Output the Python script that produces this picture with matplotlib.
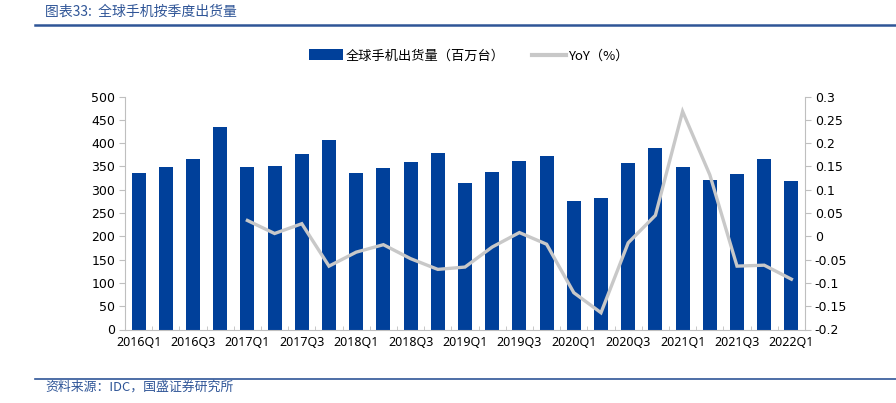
import matplotlib
matplotlib.use("Agg")
import matplotlib.pyplot as plt
from matplotlib.lines import Line2D
from matplotlib.patches import Patch
import numpy as np

plt.rcParams['font.family'] = ['DejaVu Sans', 'Noto Sans CJK SC']

quarters = ["2016Q1", "2016Q2", "2016Q3", "2016Q4",
            "2017Q1", "2017Q2", "2017Q3", "2017Q4",
            "2018Q1", "2018Q2", "2018Q3", "2018Q4",
            "2019Q1", "2019Q2", "2019Q3", "2019Q4",
            "2020Q1", "2020Q2", "2020Q3", "2020Q4",
            "2021Q1", "2021Q2", "2021Q3", "2021Q4",
            "2022Q1"]
shipments = [336, 349, 366, 434,
             348, 351, 376, 407,
             336, 346, 360, 379,
             314, 337, 362, 372,
             276, 282, 357, 389,
             349, 320, 334, 366,
             318]
yoy = [None, None, None, None,
       0.034, 0.006, 0.027, -0.064,
       -0.034, -0.018, -0.048, -0.071,
       -0.066, -0.023, 0.008, -0.017,
       -0.121, -0.164, -0.014, 0.045,
       0.268, 0.132, -0.064, -0.062,
       -0.092]

bar_label = "全球手机出货量（百万台）"
line_label = "YoY（%）"
title = "图表33:  全球手机按季度出货量"
source = "资料来源：IDC，国盛证券研究所"

blue = "#00409A"
gray = "#C8C8C8"
spine_gray = "#BFBFBF"
title_blue = "#2F5597"

fig = plt.figure(figsize=(8.96, 4.03), dpi=100)
ax = fig.add_axes([125/896, 1-329.5/403, (805-125)/896, (329.5-96.5)/403])
x = np.arange(len(quarters))
ax.bar(x, shipments, width=0.52, color=blue, zorder=2)
ax.set_xlim(-0.5, len(quarters)-0.5)
ax.set_ylim(0, 500)
ax.set_yticks(np.arange(0, 501, 50))
ax.set_xticks(x[::2])
ax.set_xticklabels(quarters[::2], family=['Noto Sans', 'DejaVu Sans'], fontsize=9)
ax.set_xticks(np.arange(-0.5, len(quarters), 1), minor=True)

ax2 = ax.twinx()
xi = [i for i, v in enumerate(yoy) if v is not None]
yv = [v for v in yoy if v is not None]
ax2.plot(xi, yv, color=gray, lw=2.4, solid_joinstyle='miter', zorder=3)
ax2.set_ylim(-0.2, 0.3)
ax2.set_yticks([-0.2, -0.15, -0.1, -0.05, 0, 0.05, 0.1, 0.15, 0.2, 0.25, 0.3])
ax2.set_yticklabels(["-0.2", "-0.15", "-0.1", "-0.05", "0", "0.05", "0.1", "0.15", "0.2", "0.25", "0.3"])

for a in (ax, ax2):
    for s in a.spines.values():
        s.set_visible(False)
ax.spines['left'].set_visible(True)
ax.spines['left'].set_color(spine_gray)
ax.spines['bottom'].set_visible(True)
ax.spines['bottom'].set_color(spine_gray)
ax2.spines['right'].set_visible(True)
ax2.spines['right'].set_color(spine_gray)

ax.tick_params(axis='y', direction='out', length=4, color=spine_gray, labelsize=9, pad=3)
ax2.tick_params(axis='y', direction='out', length=4, color=spine_gray, labelsize=9, pad=3)
ax.tick_params(axis='x', which='major', length=0, pad=5)
ax.tick_params(axis='x', which='minor', direction='in', length=3, color=spine_gray)

handles = [Patch(facecolor=blue, edgecolor='none', label=bar_label),
           Line2D([0], [0], color=gray, lw=3, label=line_label)]
fig.legend(handles=handles, loc='center', bbox_to_anchor=(469/896, 1-56/403), ncol=2,
           frameon=False, handlelength=2.6, handleheight=0.9,
           handletextpad=0.15, columnspacing=2.1,
           prop={'family': ['Noto Sans CJK SC', 'DejaVu Sans'], 'size': 9.5})

fig.text(45/896, 1-12/403, title, color=title_blue, fontsize=10, style='italic',
         va='center', ha='left', family=['Noto Sans CJK SC', 'DejaVu Sans'])
fig.add_artist(Line2D([35/896, 1.0], [1-24.5/403, 1-24.5/403], color=title_blue, lw=1.8))
fig.add_artist(Line2D([35/896, 1.0], [1-379/403, 1-379/403], color=title_blue, lw=1.2))
fig.text(45/896, 1-387/403, source, color=title_blue, fontsize=9.3, style='italic',
         va='center', ha='left', family=['Noto Sans CJK SC', 'DejaVu Sans'])

fig.savefig("out.png", dpi=100)
